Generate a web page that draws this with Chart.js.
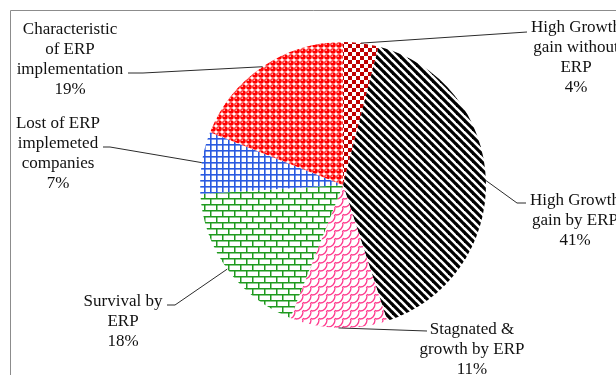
<!DOCTYPE html>
<html>
<head>
<meta charset="utf-8">
<script src="https://cdn.jsdelivr.net/npm/chart.js@4.4.1/dist/chart.umd.min.js"></script>
<style>
  html, body { margin: 0; padding: 0; background: #fff; }
  #wrap { width: 616px; height: 375px; position: relative; }
</style>
</head>
<body>
<div id="wrap"><canvas id="pie" width="616" height="375"></canvas></div>
<script>
// slice order clockwise from 12 o'clock
var categories = [
  ['High Growth', 'gain without', 'ERP'],
  ['High Growth', 'gain by ERP'],
  ['Stagnated &', 'growth by ERP'],
  ['Survival by', 'ERP'],
  ['Lost of ERP', 'implemeted', 'companies'],
  ['Characteristic', 'of ERP', 'implementation']
];
var shares = [4, 41, 11, 18, 7, 19];

// label placement: text centre x, first line y, leader end x/y, stub end x (null = no stub)
var labelPos = [
  { cx: 576, y: 28, ax: 527, ay: 32, stub: null },
  { cx: 575, y: 201, ax: 517, ay: 203, stub: 526 },
  { cx: 472, y: 330, ax: 427, ay: 331, stub: null },
  { cx: 123, y: 302, ax: 175, ay: 305, stub: 167 },
  { cx: 58, y: 124, ax: 110, ay: 147, stub: 103 },
  { cx: 70, y: 30, ax: 143, ay: 73, stub: 128 }
];

function makeTile(w, h, paint) {
  var c = document.createElement('canvas');
  c.width = w; c.height = h;
  var g = c.getContext('2d');
  g.fillStyle = '#fff';
  g.fillRect(0, 0, w, h);
  paint(g);
  return document.getElementById('pie').getContext('2d').createPattern(c, 'repeat');
}

// dark red checkerboard
var checker = makeTile(8, 8, function(g) {
  g.fillStyle = '#c00000';
  g.fillRect(0, 0, 4, 4);
  g.fillRect(4, 4, 4, 4);
});
// black wide downward diagonal
var stripes = makeTile(8, 8, function(g) {
  g.strokeStyle = '#000';
  g.lineWidth = 3.2;
  [-8, 0, 8].forEach(function(o) {
    g.beginPath();
    g.moveTo(o - 1, -1);
    g.lineTo(o + 9, 9);
    g.stroke();
  });
});
// pink scales
var scales = makeTile(8, 8, function(g) {
  g.strokeStyle = '#ff3d8f';
  g.lineWidth = 1.3;
  g.beginPath();
  g.arc(0, 0, 7, 0, Math.PI / 2);
  g.stroke();
  g.beginPath();
  g.arc(8, 8, 1.5, Math.PI, Math.PI * 1.5);
  g.stroke();
});
// green brick
var bricks = makeTile(12, 12, function(g) {
  g.strokeStyle = '#1f9a1f';
  g.lineWidth = 1.5;
  g.beginPath();
  g.moveTo(0, 0.75); g.lineTo(12, 0.75);
  g.moveTo(0, 6.75); g.lineTo(12, 6.75);
  g.moveTo(0.75, 0); g.lineTo(0.75, 6);
  g.moveTo(6.75, 6); g.lineTo(6.75, 12);
  g.stroke();
});
// blue grid
var grid = makeTile(6, 6, function(g) {
  g.fillStyle = '#2a5ae0';
  g.fillRect(0, 0, 6, 1.6);
  g.fillRect(0, 0, 1.6, 6);
});
// red spheres
var dots = makeTile(6, 6, function(g) {
  g.fillStyle = '#ff0000';
  g.beginPath();
  g.arc(3, 3, 2.8, 0, Math.PI * 2);
  g.fill();
  g.fillStyle = '#ffb0b0';
  g.beginPath();
  g.arc(2.2, 2.2, 0.9, 0, Math.PI * 2);
  g.fill();
});

var sliceFills = [checker, stripes, scales, bricks, grid, dots];

// frame + labels with leader lines
var pieDecor = {
  id: 'pieDecor',
  beforeDraw: function(chart) {
    var ctx = chart.ctx;
    ctx.save();
    ctx.strokeStyle = '#8c8c8c';
    ctx.lineWidth = 1;
    ctx.beginPath();
    ctx.moveTo(10.5, 375);
    ctx.lineTo(10.5, 10.5);
    ctx.lineTo(616, 10.5);
    ctx.stroke();
    ctx.restore();
  },
  afterDraw: function(chart) {
    var ctx = chart.ctx;
    var arcs = chart.getDatasetMeta(0).data;
    ctx.save();
    arcs.forEach(function(a, i) {
      var mid = (a.startAngle + a.endAngle) / 2;
      var px = a.x + Math.cos(mid) * a.outerRadius;
      var py = a.y + Math.sin(mid) * a.outerRadius;
      var p = labelPos[i];
      ctx.strokeStyle = '#2b2b2b';
      ctx.lineWidth = 1;
      ctx.beginPath();
      ctx.moveTo(px, py);
      ctx.lineTo(p.ax, p.ay);
      if (p.stub !== null) ctx.lineTo(p.stub, p.ay);
      ctx.stroke();

      ctx.fillStyle = '#111';
      ctx.font = '17px "Liberation Serif", "Times New Roman", serif';
      ctx.textAlign = 'center';
      ctx.textBaseline = 'middle';
      var lines = categories[i].concat([shares[i] + '%']);
      lines.forEach(function(t, k) {
        ctx.fillText(t, p.cx, p.y + k * 20);
      });
    });
    ctx.restore();
  }
};

new Chart(document.getElementById('pie'), {
  type: 'pie',
  data: {
    labels: categories.map(function(c) { return c.join(' '); }),
    datasets: [{
      data: shares,
      backgroundColor: sliceFills,
      borderWidth: 0
    }]
  },
  options: {
    responsive: false,
    animation: false,
    rotation: 0,
    layout: { padding: { left: 200, right: 130, top: 42, bottom: 47 } },
    plugins: {
      legend: { display: false },
      tooltip: { enabled: false }
    }
  },
  plugins: [pieDecor]
});
</script>
</body>
</html>
